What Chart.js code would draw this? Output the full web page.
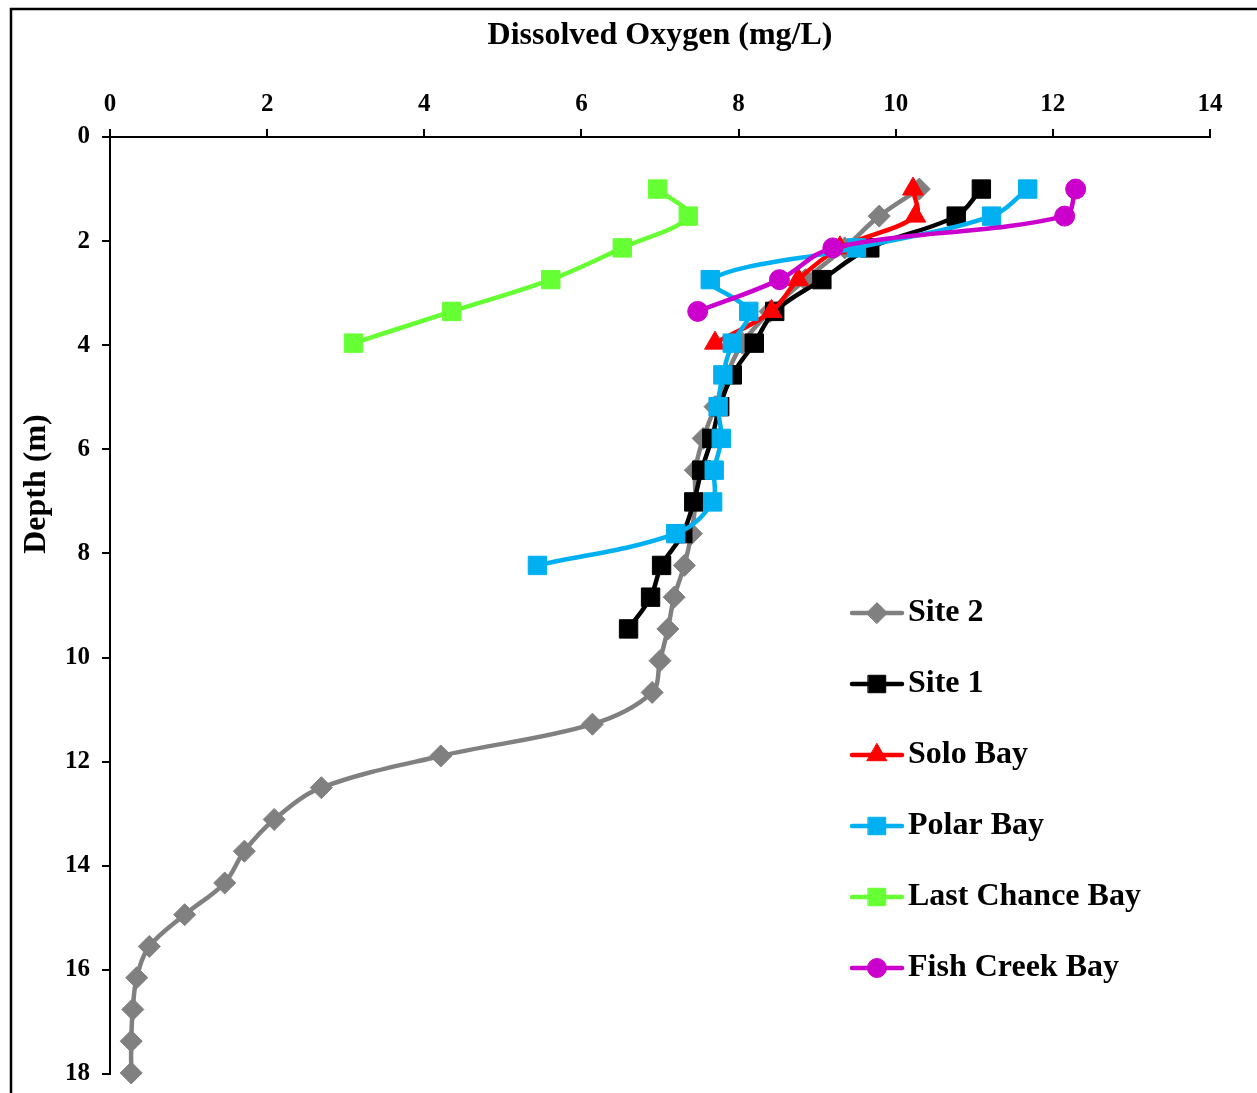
<!DOCTYPE html>
<html>
<head>
<meta charset="utf-8">
<script src="https://cdn.jsdelivr.net/npm/chart.js@4"></script>
<style>
    html, body { margin: 0; padding: 0; background: #fff; overflow: hidden; }
    #wrap { width: 1257px; height: 1093px; }
</style>
</head>
<body>
<div id="wrap"><canvas id="do-profile" width="1257" height="1093"></canvas></div>
<script>
// depth of each reading (m), shared by all sites
const depths = [1.0, 1.52, 2.13, 2.74, 3.35, 3.96, 4.57, 5.18, 5.79, 6.4, 7.01, 7.62, 8.23, 8.84, 9.45,
    10.06, 10.67, 11.28, 11.89, 12.5, 13.11, 13.72, 14.33, 14.94, 15.55, 16.15, 16.76, 17.37, 17.98];

// dissolved oxygen (mg/L) by site, top down
const site2 = [10.3, 9.79, 9.35, 8.85, 8.4, 8.05, 7.85, 7.7, 7.55, 7.45, 7.45, 7.4, 7.31, 7.18, 7.1,
    7.0, 6.9, 6.14, 4.21, 2.69, 2.09, 1.71, 1.46, 0.95, 0.5, 0.34, 0.29, 0.27, 0.27];
const site1 = [11.09, 10.77, 9.67, 9.06, 8.46, 8.2, 7.92, 7.76, 7.66, 7.53, 7.43, 7.29, 7.02, 6.88, 6.6];
const soloBay = [10.22, 10.25, 9.29, 8.76, 8.42, 7.7];
const polarBay = [11.68, 11.22, 9.5, 7.64, 8.13, 7.92, 7.8, 7.74, 7.78, 7.69, 7.67, 7.2, 5.44];
const lastChanceBay = [6.97, 7.36, 6.52, 5.61, 4.35, 3.1];
const fishCreekBay = [12.29, 12.15, 9.2, 8.52, 7.48];

const seriesNames = ['Site 2', 'Site 1', 'Solo Bay', 'Polar Bay', 'Last Chance Bay', 'Fish Creek Bay'];
const seriesValues = [site2, site1, soloBay, polarBay, lastChanceBay, fishCreekBay];
const seriesColors = ['#808080', '#000000', '#FF0000', '#00B0F0', '#66FF33', '#CC00CC'];
const seriesMarkers = ['rectRot', 'rect', 'triangle', 'rect', 'rect', 'circle'];
const markerSizes = [11, 13, 12, 13, 13, 10];

const FONT = '"Liberation Serif", "Times New Roman", serif';

// ------------------- Datasets ------------------
const datasets = seriesNames.map((name, i) => ({
    label: name,
    data: seriesValues[i].map((v, k) => ({ x: v, y: depths[k] })),
    showLine: true,
    borderColor: seriesColors[i],
    backgroundColor: seriesColors[i],
    pointBackgroundColor: seriesColors[i],
    pointBorderColor: seriesColors[i],
    pointBorderWidth: 1,
    borderWidth: 4.5,
    tension: 0.35,
    pointStyle: seriesMarkers[i],
    pointRadius: markerSizes[i],
    order: seriesNames.length - i,
    clip: false
}));

// ------------------- Frame, y title, legend ------------------
const decorations = {
    id: 'decorations',
    beforeDraw(chart) {
        const ctx = chart.ctx;
        ctx.save();
        ctx.fillStyle = '#fff';
        ctx.fillRect(0, 0, chart.width, chart.height);
        ctx.strokeStyle = '#000';
        ctx.lineWidth = 2.5;
        ctx.beginPath();
        ctx.moveTo(11, chart.height + 5);
        ctx.lineTo(11, 9);
        ctx.lineTo(chart.width + 5, 9);
        ctx.stroke();
        ctx.restore();
    },
    afterDraw(chart) {
        const ctx = chart.ctx;
        ctx.save();
        ctx.translate(37, 484);
        ctx.rotate(-Math.PI / 2);
        ctx.fillStyle = '#000';
        ctx.font = 'bold 32px ' + FONT;
        ctx.textAlign = 'center';
        ctx.textBaseline = 'middle';
        ctx.fillText('Depth (m)', 0, 0);
        ctx.restore();

        chart.data.datasets.forEach((ds, i) => {
            const y = 613 + i * 71;
            ctx.save();
            ctx.strokeStyle = ds.borderColor;
            ctx.lineWidth = 4.5;
            ctx.lineCap = 'round';
            ctx.beginPath();
            ctx.moveTo(852, y);
            ctx.lineTo(902, y);
            ctx.stroke();
            ctx.fillStyle = ds.pointBackgroundColor;
            ctx.strokeStyle = ds.pointBorderColor;
            ctx.lineWidth = 1;
            Chart.helpers.drawPoint(ctx, {
                pointStyle: ds.pointStyle,
                radius: ds.pointRadius * 0.95,
                rotation: 0,
                borderWidth: 1
            }, 877, y);
            ctx.fillStyle = '#000';
            ctx.font = 'bold 32px ' + FONT;
            ctx.textAlign = 'left';
            ctx.textBaseline = 'middle';
            ctx.fillText(ds.label, 908, y);
            ctx.restore();
        });
    }
};

// ------------------- Chart Options ------------------
const chartOptions = {
    responsive: false,
    animation: false,
    layout: { padding: { left: 0, top: 0, right: 47, bottom: 19 } },
    plugins: {
        legend: { display: false },
        tooltip: { enabled: false }
    },
    scales: {
        x: {
            type: 'linear',
            position: 'top',
            min: 0,
            max: 14,
            ticks: {
                stepSize: 2,
                color: '#000',
                padding: 9,
                font: { family: FONT, size: 25, weight: 'bold' }
            },
            grid: { drawOnChartArea: false, drawTicks: true, tickLength: 8, color: '#000', lineWidth: 2 },
            border: { display: true, color: '#000', width: 2 },
            title: {
                display: true,
                text: 'Dissolved Oxygen (mg/L)',
                color: '#000',
                padding: { top: 17, bottom: 0 },
                font: { family: FONT, size: 32, weight: 'bold' }
            },
            afterFit(scale) {
                scale.height = 137;
                scale.paddingLeft = 0;
                scale.paddingRight = 0;
            }
        },
        y: {
            type: 'linear',
            reverse: true,
            min: 0,
            max: 18,
            ticks: {
                stepSize: 2,
                color: '#000',
                padding: 12,
                font: { family: FONT, size: 25, weight: 'bold' }
            },
            grid: { drawOnChartArea: false, drawTicks: true, tickLength: 8, color: '#000', lineWidth: 2 },
            border: { display: true, color: '#000', width: 2 },
            afterFit(scale) {
                scale.width = 110;
                scale.paddingTop = 0;
                scale.paddingBottom = 0;
            }
        }
    }
};

// ------------------- Chart Config ------------------
const config = {
    type: 'scatter',
    data: { datasets: datasets },
    options: chartOptions,
    plugins: [decorations]
};

// ------------------- Initialize Chart ------------------
const myChart = new Chart(document.getElementById('do-profile'), config);
</script>
</body>
</html>
